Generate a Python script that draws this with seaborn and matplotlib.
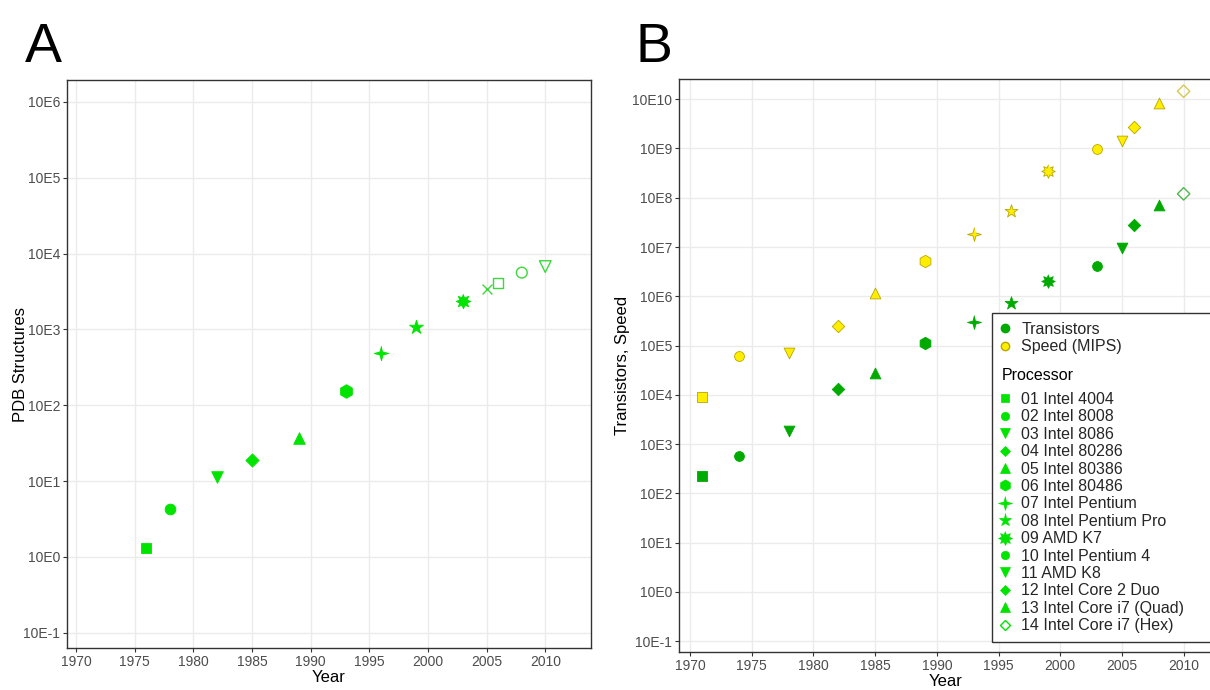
import numpy as np
import pandas as pd
import matplotlib
matplotlib.use("Agg")
import matplotlib.pyplot as plt
from matplotlib.lines import Line2D
from matplotlib.patches import Rectangle
import seaborn as sns

# ---- data ----
years_pdb = [1976, 1978, 1982, 1985, 1989, 1993, 1996, 1999, 2003, 2005, 2006, 2008, 2010]
pdb_structures = [13, 43, 112, 190, 372, 1550, 4900, 10700, 23400, 34700, 40700, 56200, 67600]

processors = ["01 Intel 4004", "02 Intel 8008", "03 Intel 8086", "04 Intel 80286",
              "05 Intel 80386", "06 Intel 80486", "07 Intel Pentium", "08 Intel Pentium Pro",
              "09 AMD K7", "10 Intel Pentium 4", "11 AMD K8", "12 Intel Core 2 Duo",
              "13 Intel Core i7 (Quad)", "14 Intel Core i7 (Hex)"]
years_cpu = [1971, 1974, 1978, 1982, 1985, 1989, 1993, 1996, 1999, 2003, 2005, 2006, 2008, 2010]
transistors = [2240, 5620, 18200, 129000, 275000, 1.12e6, 3.02e6, 7.41e6, 2.09e7,
               4.07e7, 9.55e7, 2.82e8, 7.24e8, 1.2e9]
speed_mips = [8.9e4, 6.17e5, 7.08e5, 2.51e6, 1.17e7, 5.13e7, 1.82e8, 5.37e8, 3.55e9,
              9.77e9, 1.41e10, 2.69e10, 8.51e10, 1.45e11]

tick_exp_a = list(range(-1, 7))
tick_exp_b = list(range(-1, 11))


def star(n, inner):
    ang = np.pi / 2 + np.arange(2 * n) * np.pi / n
    r = np.where(np.arange(2 * n) % 2 == 0, 1.0, inner)
    return list(zip(r * np.cos(ang), r * np.sin(ang)))


STAR4 = star(4, 0.3)
STAR8 = star(8, 0.55)

# marker, filled, size
marks_a = [("s", True, 55), ("o", True, 60), ("v", True, 70), ("D", True, 45), ("^", True, 70),
           ("h", True, 95), (STAR4, True, 110), ("*", True, 110), (STAR8, True, 110),
           ("x", False, 50), ("s", False, 55), ("o", False, 60), ("v", False, 70)]
marks_b = [("s", True, 45), ("o", True, 50), ("v", True, 60), ("D", True, 40), ("^", True, 60),
           ("h", True, 80), (STAR4, True, 100), ("*", True, 95), (STAR8, True, 95),
           ("o", True, 50), ("v", True, 60), ("D", True, 40), ("^", True, 60), ("D", False, 40)]

LIME = "#00E400"
LIME_LIGHT = "#3CD83C"
GREEN = "#00AA00"
YELLOW = "#FFEE00"
YEDGE = "#B8A600"

sns.set_style("whitegrid", {"grid.color": "#EBEBEB", "axes.edgecolor": "#333333"})
plt.rcParams["font.family"] = ["Liberation Sans", "DejaVu Sans"]

fig = plt.figure(figsize=(12.1, 6.9), dpi=100)
W, H = 1210, 690


def px_axes(l, t, r, b):
    return fig.add_axes([l / W, (H - b) / H, (r - l) / W, (b - t) / H])


def style_axes(ax, exps, ylabel, label_x):
    ax.set_yscale("log")
    ax.set_yticks([10.0 ** (e + 1) for e in exps])
    ax.set_yticklabels([f"10E{e}" for e in exps])
    ax.minorticks_off()
    ax.set_xticks(range(1970, 2011, 5))
    ax.tick_params(length=3, width=0.8, color="#333333", labelcolor="#4D4D4D",
                   labelsize=10, pad=2, bottom=True, left=True)
    ax.set_xlabel("Year", fontsize=12, color="black", labelpad=1)
    ax.set_ylabel(ylabel, fontsize=12, color="black")
    ax.yaxis.set_label_coords(label_x, 0.5)
    for s in ax.spines.values():
        s.set_color("#333333")
        s.set_linewidth(1.0)
    ax.grid(True, color="#EBEBEB", linewidth=1.0)


def draw(ax, xs, ys, marks, color, edge, hollow_color):
    df = pd.DataFrame({"Year": xs, "Value": ys})
    for i, (m, filled, size) in enumerate(marks):
        row = df.iloc[[i]]
        if m == "x":
            sns.scatterplot(data=row, x="Year", y="Value", marker="x", s=size,
                            color=hollow_color, linewidth=1.0, ax=ax, zorder=3)
        elif filled:
            sns.scatterplot(data=row, x="Year", y="Value", marker=m, s=size,
                            color=color, edgecolor=edge, linewidth=0.6, ax=ax, zorder=3)
        else:
            sns.scatterplot(data=row, x="Year", y="Value", marker=m, s=size,
                            facecolor="none", edgecolor=hollow_color, linewidth=1.0,
                            ax=ax, zorder=3)


# ---- panel A ----
ax_a = px_axes(67, 80, 591, 648)
draw(ax_a, years_pdb, pdb_structures, marks_a, LIME, LIME, LIME_LIGHT)
style_axes(ax_a, tick_exp_a, "PDB Structures", (28 - 67) / 524)
ax_a.set_xlim(1969.23, 2013.9)
ax_a.set_ylim(10 ** -0.2, 10 ** 7.29)

# ---- panel B ----
ax_b = px_axes(679, 79, 1212, 652)
draw(ax_b, years_cpu, transistors, marks_b, GREEN, GREEN, "#4FB84F")
draw(ax_b, years_cpu, speed_mips, marks_b, YELLOW, YEDGE, "#D8C850")
style_axes(ax_b, tick_exp_b, "Transistors, Speed", (630 - 679) / 533)
ax_b.set_xlim(1969.1, 2012.3)
ax_b.set_ylim(10 ** -0.22, 10 ** 11.41)

fig.text(25 / W, (H - 62) / H, "A", fontsize=40, color="black")
fig.text(635 / W, (H - 62) / H, "B", fontsize=40, color="black")

# ---- legend for B ----
box = Rectangle((992 / W, (H - 642) / H), (1220 - 992) / W, (642 - 313) / H,
                transform=fig.transFigure, facecolor="white", edgecolor="#333333",
                linewidth=1.0, zorder=4)
fig.add_artist(box)

h_series = [Line2D([], [], ls="none", marker="o", ms=6, mfc=GREEN, mec=GREEN, label="Transistors"),
            Line2D([], [], ls="none", marker="o", ms=6, mfc=YELLOW, mec=YEDGE, label="Speed (MIPS)")]
leg1 = fig.legend(handles=h_series, loc="upper left", bbox_to_anchor=(999 / W, (H - 322) / H),
                  frameon=False, fontsize=11.5, handlelength=0.8, handletextpad=0.6,
                  borderpad=0, borderaxespad=0, labelspacing=0.15)
leg1.set_zorder(5)

t = fig.text(1002 / W, (H - 376) / H, "Processor", fontsize=11.5, va="center", ha="left",
             color="black")
t.set_zorder(5)

leg_marks = [("s", True), ("o", True), ("v", True), ("D", True), ("^", True), ("h", True),
             (STAR4, True), ("*", True), (STAR8, True), ("o", True), ("v", True), ("D", True),
             ("^", True), ("D", False)]
leg_sizes = [6, 6, 7, 5.5, 7, 8, 10, 9.5, 10, 6, 7, 5.5, 7, 5.5]
h_proc = []
for name, (m, filled), ms in zip(processors, leg_marks, leg_sizes):
    h_proc.append(Line2D([], [], ls="none", marker=m, ms=ms, mfc=LIME if filled else "none",
                         mec=LIME, mew=1.0 if not filled else 0.5, label=name))
leg2 = fig.legend(handles=h_proc, loc="upper left", bbox_to_anchor=(999 / W, (H - 392) / H),
                  frameon=False, fontsize=11.5, handlelength=0.8, handletextpad=0.6,
                  borderpad=0, borderaxespad=0, labelspacing=0.15)
leg2.set_zorder(5)

fig.savefig("out.png", dpi=100)
